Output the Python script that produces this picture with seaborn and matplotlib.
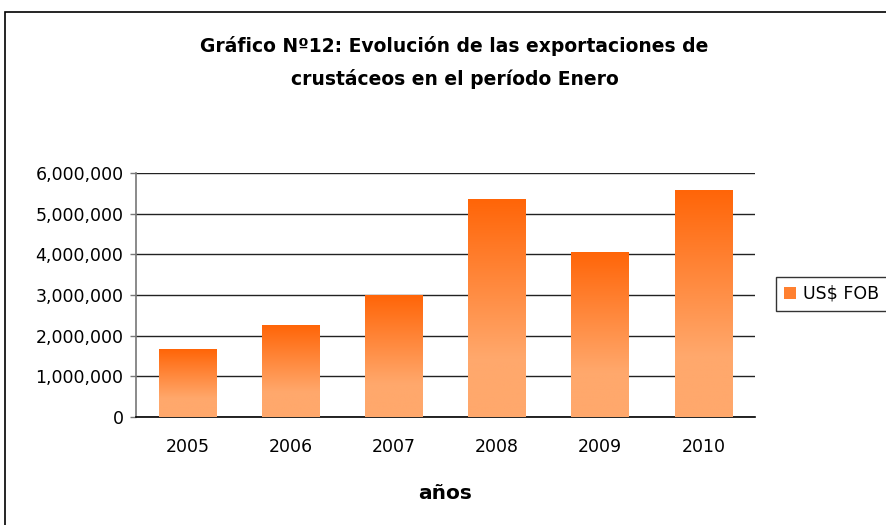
import numpy as np
import pandas as pd
import matplotlib
matplotlib.use("Agg")
import matplotlib.pyplot as plt
import seaborn as sns
from matplotlib.colors import LinearSegmentedColormap
from matplotlib.patches import Patch, Rectangle

# Datos
years = ["2005", "2006", "2007", "2008", "2009", "2010"]
fob_usd = [1670000, 2260000, 3000000, 5360000, 4060000, 5580000]
y_ticks = [0, 1000000, 2000000, 3000000, 4000000, 5000000, 6000000]

title = "Gráfico Nº12: Evolución de las exportaciones de\ncrustáceos en el período Enero"
x_label = "años"
legend_label = "US$ FOB"

sns.set_theme(style="white")
plt.rcParams["font.family"] = ["DejaVu Sans"]
plt.rcParams["text.color"] = "black"
plt.rcParams["axes.labelcolor"] = "black"
plt.rcParams["xtick.labelcolor"] = "black"
plt.rcParams["ytick.labelcolor"] = "black"

df = pd.DataFrame({"anio": years, "fob": fob_usd})

fig = plt.figure(figsize=(8.86, 5.25), dpi=100)
ax = fig.add_axes([136 / 886, 1 - 417 / 525, (755 - 136) / 886, (417 - 173) / 525])

sns.barplot(data=df, x="anio", y="fob", ax=ax, color="#ff8030", width=0.56,
            saturation=1, zorder=3)

# degradado naranja en cada barra (claro abajo, oscuro arriba)
light, dark = "#ffa86c", "#ff6508"
cmap = LinearSegmentedColormap.from_list("naranja", [(0, light), (0.27, light), (1, dark)], N=256)
grad = np.linspace(0, 1, 256).reshape(-1, 1)
for p in ax.patches:
    x0, w, h = p.get_x(), p.get_width(), p.get_height()
    p.set_facecolor("none")
    p.set_edgecolor("none")
    im = ax.imshow(grad, extent=[x0, x0 + w, 0, h], origin="lower", aspect="auto",
                   cmap=cmap, zorder=3)
    im.set_clip_path(p)

ax.set_xlim(-0.5, len(years) - 0.5)
ax.set_ylim(0, 6000000)
ax.set_yticks(y_ticks)
ax.set_yticklabels([f"{v:,}" for v in y_ticks], fontsize=12.5)
ax.yaxis.grid(True, color="#222222", linewidth=1.0, zorder=0)
ax.set_axisbelow(True)

# ticks entre categorias como en Excel
ax.set_xticks(range(len(years)))
ax.set_xticklabels(years, fontsize=12.5)
ax.set_xticks(np.arange(-0.5, len(years)), minor=True)
ax.tick_params(axis="x", which="major", length=0, pad=15)
ax.tick_params(axis="x", which="minor", length=5, width=1, color="black", direction="out")
ax.tick_params(axis="y", length=4, width=1, color="#777777", direction="out", left=True, pad=5)

for s in ["top", "right"]:
    ax.spines[s].set_visible(False)
ax.spines["left"].set_color("#777777")
ax.spines["left"].set_linewidth(1.2)
ax.spines["bottom"].set_color("black")
ax.spines["bottom"].set_linewidth(1.2)

ax.set_xlabel(x_label, fontsize=14.5, fontweight="bold", labelpad=20)
ax.set_ylabel("")

fig.text(0.513, 0.932, title, ha="center", va="top", fontsize=13.5, fontweight="bold",
         linespacing=1.85)

handle = Patch(facecolor="#ff8030", edgecolor="none", label=legend_label)
fig.legend(handles=[handle], loc="upper left", bbox_to_anchor=(776 / 886, 1 - 277 / 525),
           fontsize=12.5, frameon=True, fancybox=False, edgecolor="black",
           handlelength=0.7, handleheight=0.7, handletextpad=0.4,
           borderpad=0.45, borderaxespad=0)

# marco del area del grafico
fig.patches.append(Rectangle((5 / 886, -0.01), 1.0, 1 - 12 / 525 + 0.01,
                             transform=fig.transFigure, fill=False,
                             edgecolor="black", linewidth=1.2))

fig.savefig("out.png", dpi=100)
